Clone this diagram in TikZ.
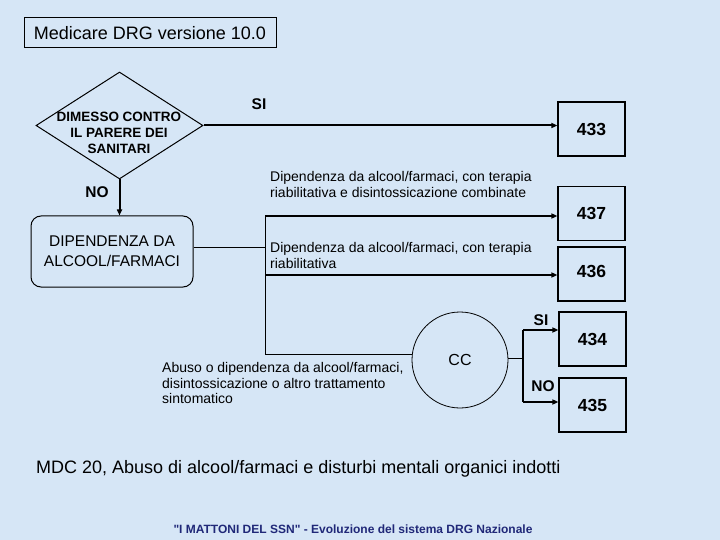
\documentclass[tikz,border=0pt]{standalone}
\usepackage{fontspec}
\setmainfont{Liberation Sans}
\usetikzlibrary{shapes.geometric,arrows.meta}
\definecolor{bgblue}{RGB}{214,230,246}
\definecolor{navy}{RGB}{32,40,120}
\tikzset{
  thinline/.style={line width=1pt,draw=black},
  thickarrow/.style={line width=2pt,draw=black,-{Triangle[length=6pt,width=5pt]}},
  thickline/.style={line width=2pt,draw=black},
  numbox/.style={draw,line width=1.2pt,minimum width=67pt,minimum height=54pt,inner sep=0pt,font=\fontsize{17.5}{20}\selectfont\bfseries},
  yesno/.style={font=\fontsize{15.5}{17}\selectfont\bfseries,inner sep=0pt},
  desc/.style={anchor=west,align=left,inner sep=0pt,font=\fontsize{14}{15.5}\selectfont}
}
\begin{document}
\begin{tikzpicture}[x=1pt,y=-1pt]
\fill[bgblue] (0,0) rectangle (720,540);
\useasboundingbox (0,0) rectangle (720,540);

% title
\node[draw,line width=1pt,minimum width=252pt,minimum height=30pt,inner sep=0pt,font=\fontsize{18}{21}\selectfont] (title) at (150,33) {Medicare DRG versione 10.0};

% decision diamond
\node[diamond,draw,line width=1pt,minimum width=167pt,minimum height=107pt,inner sep=0pt] (dec) at (119.5,125.5) {};
\node[align=center,inner sep=0pt,font=\fontsize{13.5}{16}\selectfont\bfseries] (dectext) at (119,133) {DIMESSO CONTRO\\IL PARERE DEI\\SANITARI};

% rounded box
\node[draw,line width=1pt,rounded corners=10pt,minimum width=162pt,minimum height=71pt,inner sep=0pt,align=center,font=\fontsize{15.5}{20}\selectfont] (rbox) at (112,251.5) {DIPENDENZA DA\\ALCOOL/FARMACI};

% result boxes
\node[numbox] (b433) at (591.5,129) {433};
\node[numbox] (b437) at (591.5,213.5) {437};
\node[numbox,label={[font=\fontsize{17.5}{20}\selectfont\bfseries,inner sep=0pt]center:\raisebox{6pt}{436}}] (b436) at (591.5,274) {};
\node[numbox] (b434) at (592.5,339) {434};
\node[numbox] (b435) at (592.5,405) {435};

% CC circle
\node[circle,draw,line width=0.8pt,minimum size=96pt,inner sep=0pt,font=\fontsize{16}{18}\selectfont] (cc) at (460,360) {CC};

% junction coordinates
\coordinate (jA) at (265,216);
\coordinate (jM) at (265,275);
\coordinate (jB) at (265,354);
\coordinate (kC) at (523,358);
\coordinate (kS) at (523,330);
\coordinate (kN) at (523,402);

% connectors
\draw[thickarrow] (dec.east) -- (dec.east -| b433.west);
\draw[thickarrow] (dec.south) -- (dec.south |- rbox.north);
\draw[thinline] (rbox.east |- 0,247) -- (265,247);
\draw[thinline] (jA) -- (jB);
\draw[thickarrow] (jA) -- (jA -| b437.west);
\draw[thickarrow] (jM) -- (jM -| b436.west);
\draw[thinline] (jB) -- (cc.west |- jB);
\draw[thinline] (cc.east |- kC) -- (kC);
\draw[thickline] (kS) -- (kN);
\draw[thickarrow] (kS) -- (kS -| b434.west);
\draw[thickarrow] (kN) -- (kN -| b435.west);

% yes / no labels
\node[yesno] (si1) at (259,104) {SI};
\node[yesno] (no1) at (97,192) {NO};
\node[yesno] (si2) at (541,320) {SI};
\node[yesno] (no2) at (543,386) {NO};

% descriptions
\node[desc] (d437) at (270,184.5) {Dipendenza da alcool/farmaci, con terapia\\riabilitativa e disintossicazione combinate};
\node[desc] (d436) at (270,255.5) {Dipendenza da alcool/farmaci, con terapia\\riabilitativa};
\node[desc] (dcc) at (162,383) {Abuso o dipendenza da alcool/farmaci,\\disintossicazione o altro trattamento\\sintomatico};

% bottom texts
\node[anchor=west,inner sep=0pt,font=\fontsize{18}{21}\selectfont] (mdc) at (36,469) {MDC 20, Abuso di alcool/farmaci e disturbi mentali organici indotti};
\node[inner sep=0pt,text=navy,font=\fontsize{12}{14}\selectfont\bfseries] (foot) at (353,529) {\textquotedbl I MATTONI DEL SSN\textquotedbl{} - Evoluzione del sistema DRG Nazionale};
\end{tikzpicture}
\end{document}
